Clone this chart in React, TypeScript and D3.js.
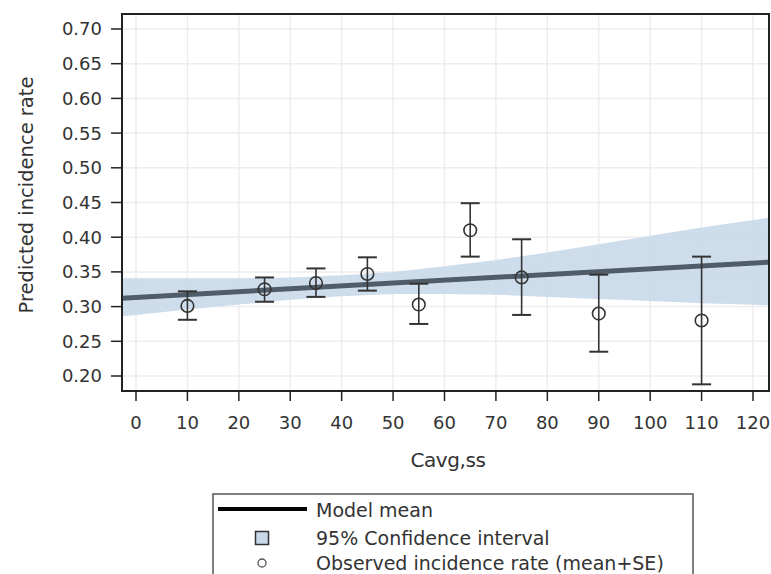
import React from "react";
import * as d3 from "d3";

const xTicks = [0, 10, 20, 30, 40, 50, 60, 70, 80, 90, 100, 110, 120];
const yTicks = [0.2, 0.25, 0.3, 0.35, 0.4, 0.45, 0.5, 0.55, 0.6, 0.65, 0.7];

const obsX = [10, 25, 35, 45, 55, 65, 75, 90, 110];
const obsMean = [0.301, 0.325, 0.334, 0.347, 0.303, 0.41, 0.342, 0.29, 0.28];
const obsLow = [0.281, 0.307, 0.314, 0.323, 0.275, 0.372, 0.288, 0.235, 0.188];
const obsHigh = [0.322, 0.342, 0.355, 0.371, 0.333, 0.449, 0.397, 0.346, 0.372];

const modelX = [-3, 123];
const modelY = [0.312, 0.364];

const ciX = [-3, 0, 10, 20, 30, 40, 50, 60, 70, 80, 90, 100, 110, 123];
const ciLower = [0.286, 0.288, 0.296, 0.303, 0.31, 0.315, 0.318, 0.318, 0.317, 0.314, 0.311, 0.308, 0.305, 0.302];
const ciUpper = [0.341, 0.341, 0.341, 0.341, 0.342, 0.345, 0.35, 0.358, 0.367, 0.378, 0.39, 0.402, 0.414, 0.428];

const legendLabels = ["Model mean", "95% Confidence interval", "Observed incidence rate (mean+SE)"];

export default function App() {
  const W = 771, H = 574;
  const L = 122, R = 769, T = 14, B = 391;
  const x = d3.scaleLinear().domain([0, 120]).range([136, 753]);
  const y = d3.scaleLinear().domain([0.2, 0.7]).range([376, 29]);
  const font = "'DejaVu Sans', sans-serif";
  const ink = "#333";

  const area = d3
    .area<number>()
    .x((_, i) => x(ciX[i]))
    .y0((_, i) => y(ciLower[i]))
    .y1((_, i) => y(ciUpper[i]));
  const line = d3
    .line<number>()
    .x((_, i) => x(modelX[i]))
    .y((d) => y(d));

  const rowY = [510, 538, 563];

  return (
    <svg width={W} height={H} style={{ position: "absolute", left: 0, top: 0, background: "#fff" }}>
      <defs>
        <clipPath id="plot">
          <rect x={L} y={T} width={R - L} height={B - T} />
        </clipPath>
      </defs>
      {xTicks.map((t) => (
        <line key={"gx" + t} x1={x(t)} x2={x(t)} y1={T} y2={B} stroke="#ededed" strokeWidth={1.5} />
      ))}
      {yTicks.map((t) => (
        <line key={"gy" + t} x1={L} x2={R} y1={y(t)} y2={y(t)} stroke="#ededed" strokeWidth={1.5} />
      ))}
      <g clipPath="url(#plot)">
        <path d={area(ciX) || ""} fill="#c9d9ea" opacity={0.9} />
        <path d={line(modelY) || ""} fill="none" stroke="#505c68" strokeWidth={5} />
        {obsX.map((v, i) => {
          const cx = x(v);
          return (
            <g key={"o" + i} stroke={ink} fill="none" strokeWidth={1.6}>
              <line x1={cx} x2={cx} y1={y(obsLow[i])} y2={y(obsHigh[i])} />
              <line x1={cx - 9.5} x2={cx + 9.5} y1={y(obsLow[i])} y2={y(obsLow[i])} strokeWidth={2} />
              <line x1={cx - 9.5} x2={cx + 9.5} y1={y(obsHigh[i])} y2={y(obsHigh[i])} strokeWidth={2} />
              <circle cx={cx} cy={y(obsMean[i])} r={6.3} />
            </g>
          );
        })}
      </g>
      <rect x={L} y={T} width={R - L} height={B - T} fill="none" stroke="#222" strokeWidth={2} />
      {yTicks.map((t) => (
        <g key={"yt" + t}>
          <line x1={L - 11} x2={L} y1={y(t)} y2={y(t)} stroke="#222" strokeWidth={1.5} />
          <text x={102} y={y(t)} dy="0.36em" textAnchor="end" fontFamily={font} fontSize={18} fill={ink}>
            {t.toFixed(2)}
          </text>
        </g>
      ))}
      {xTicks.map((t) => (
        <g key={"xt" + t}>
          <line x1={x(t)} x2={x(t)} y1={B} y2={B + 10} stroke="#222" strokeWidth={1.5} />
          <text x={x(t)} y={429} textAnchor="middle" fontFamily={font} fontSize={18} fill={ink}>
            {t}
          </text>
        </g>
      ))}
      <text x={448} y={467} textAnchor="middle" fontFamily={font} fontSize={20} fill={ink} letterSpacing={-0.4}>
        Cavg,ss
      </text>
      <text
        transform={`translate(33,195) rotate(-90)`}
        textAnchor="middle"
        fontFamily={font}
        fontSize={19.5}
        fill={ink}
      >
        Predicted incidence rate
      </text>
      <rect x={213} y={494} width={480} height={100} fill="#fff" stroke="#555" strokeWidth={1.5} />
      <line x1={218} x2={307} y1={509} y2={509} stroke="#000" strokeWidth={4} />
      <rect x={255.5} y={rowY[1] - 6.5} width={13} height={13} fill="#c9d9ea" stroke="#333" strokeWidth={1.5} />
      <circle cx={262} cy={rowY[2]} r={4} fill="none" stroke="#555" strokeWidth={1.3} />
      {legendLabels.map((lab, i) => (
        <text key={lab} x={316} y={rowY[i]} dy="0.36em" fontFamily={font} fontSize={19} fill={ink}>
          {lab}
        </text>
      ))}
    </svg>
  );
}
